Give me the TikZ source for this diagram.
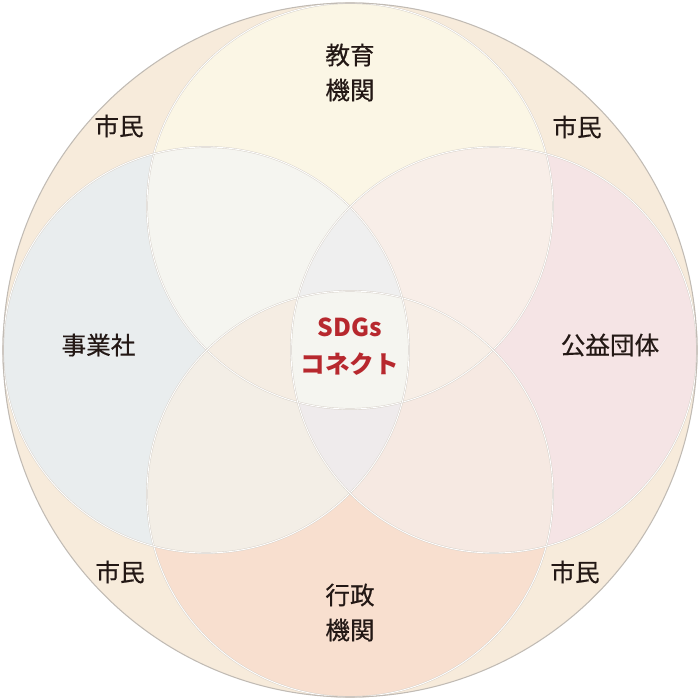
\documentclass[tikz,border=0pt]{standalone}
\usepackage{fontspec}
\setmainfont{Noto Sans CJK JP}
\newfontfamily\jpmedium{Noto Sans CJK JP}[FakeBold=0.5]
\usepackage{xcolor}
\usepackage{tikz}
\definecolor{ink}{HTML}{231815}
\definecolor{sdgred}{HTML}{B7282E}
\definecolor{citizen}{HTML}{F7EBDB}
\definecolor{edu}{HTML}{FBF6E5}
\definecolor{biz}{HTML}{E9EDEE}
\definecolor{pub}{HTML}{F5E4E5}
\definecolor{gov}{HTML}{F8DFCF}
\definecolor{edubiz}{HTML}{F5F5F0}
\definecolor{edupub}{HTML}{F8EEE8}
\definecolor{govbiz}{HTML}{F3EEE6}
\definecolor{govpub}{HTML}{F6E9E2}
\definecolor{lensup}{HTML}{EFEFEF}
\definecolor{lensdown}{HTML}{EFEBEC}
\definecolor{lensleft}{HTML}{F5EDE3}
\definecolor{lensright}{HTML}{F7EEE6}
\definecolor{core}{HTML}{F5F5F0}
\definecolor{edgegrey}{HTML}{D6D0C8}
\tikzstyle{rim} = [draw=edgegrey, line width=1pt]
\tikzstyle{rimlight} = [draw=white, line width=0.5pt]
\tikzstyle{label} = [font=\jpmedium\fontsize{14}{19.9}\selectfont, text=ink, align=center]
\tikzstyle{hub} = [font=\fontsize{14}{21}\selectfont\bfseries, text=sdgred, align=center]
\def\rr{4.06}
\def\dd{2.88}

\begin{document}
\begin{tikzpicture}
    \useasboundingbox (-7,-7) rectangle (7,7);
    \coordinate (o) at (0,0);
    \coordinate (top) at (0,\dd);
    \coordinate (bot) at (0,-\dd);
    \coordinate (lft) at (-\dd,0);
    \coordinate (rgt) at (\dd,0);
    % outer circle
    \fill[citizen] (o) circle (6.94);
    \fill[edu] (top) circle (\rr);
    \fill[gov] (bot) circle (\rr);
    \fill[biz] (lft) circle (\rr);
    \fill[pub] (rgt) circle (\rr);
    % two circles
    \begin{scope}
        \clip (top) circle (\rr);
        \fill[edubiz] (lft) circle (\rr);
        \fill[edupub] (rgt) circle (\rr);
    \end{scope}
    \begin{scope}
        \clip (bot) circle (\rr);
        \fill[govbiz] (lft) circle (\rr);
        \fill[govpub] (rgt) circle (\rr);
    \end{scope}
    % three circles
    \begin{scope}
        \clip (lft) circle (\rr);
        \clip (rgt) circle (\rr);
        \fill[lensup] (top) circle (\rr);
        \fill[lensdown] (bot) circle (\rr);
    \end{scope}
    \begin{scope}
        \clip (top) circle (\rr);
        \clip (bot) circle (\rr);
        \fill[lensleft] (lft) circle (\rr);
        \fill[lensright] (rgt) circle (\rr);
    \end{scope}
    % four circles
    \begin{scope}
        \clip (top) circle (\rr);
        \clip (bot) circle (\rr);
        \clip (lft) circle (\rr);
        \fill[core] (rgt) circle (\rr);
    \end{scope}
    % outlines
    \foreach \c in {top,bot,lft,rgt} {
        \draw[rim] (\c) circle (\rr);
        \draw[rimlight] (\c) circle (\rr);
    }
    \draw[draw=edgegrey!90!black, line width=0.6pt] (o) circle (6.94);

    \node[label] (edulabel) at (0,5.55) {教育\\機関};
    \node[label] (govlabel) at (0,-5.25) {行政\\機関};
    \node[label] (bizlabel) at (-5.03,0.1) {事業社};
    \node[label] (publabel) at (5.2,0.1) {公益団体};
    \node[hub] (sdgs) at (0,0.07) {SDGs\\コネクト};
    \node[label] (citizen1) at (-4.62,4.48) {市民};
    \node[label] (citizen2) at (4.54,4.46) {市民};
    \node[label] (citizen3) at (-4.6,-4.44) {市民};
    \node[label] (citizen4) at (4.5,-4.44) {市民};
\end{tikzpicture}
\end{document}
